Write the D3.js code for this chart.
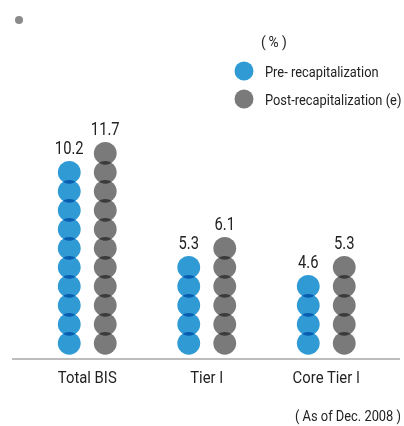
<!DOCTYPE html>
<html>
<head>
<meta charset="utf-8">
<style>
  body { margin: 0; background: #fff; }
  svg text { font-family: "Roboto", "DejaVu Sans Condensed", sans-serif; fill: #222; }
</style>
</head>
<body>
<script src="https://cdn.jsdelivr.net/npm/d3@7"></script>
<script>
  // data
  var categories = ["Total BIS", "Tier \u2160", "Core Tier \u2160"];
  var series = ["Pre- recapitalization", "Post-recapitalization (e)"];
  var preValues = [10.2, 5.3, 4.6];
  var postValues = [11.7, 6.1, 5.3];
  var colors = ["#2f9ad4", "#7a7a7b"];

  var width = 404, height = 426;

  var svg = d3.select("body").append("svg")
      .attr("width", width)
      .attr("height", height);

  var x = d3.scaleBand().domain(categories).range([27.5, 386]);
  var xSub = d3.scalePoint().domain(series).range([-18, 18]);
  var y = d3.scaleLinear().domain([0, 12]).range([352.8, 124.8]);
  var r = 11.4;

  // condensed look: squeeze the text horizontally
  function narrowText(parent, px, py, sx, size, anchor, str) {
    var g = parent.append("g").attr("transform", "translate(" + px + "," + py + ")");
    return g.append("text")
        .attr("transform", "scale(" + sx + ",1)")
        .attr("text-anchor", anchor)
        .style("font-size", size + "px")
        .text(str);
  }

  // small bullet at top left
  svg.append("circle")
      .attr("cx", 19).attr("cy", 20).attr("r", 4)
      .attr("fill", "#8a8a8a");

  // legend
  narrowText(svg, 261, 47, 0.95, 14.5, "start", "(\u2009% )");

  series.forEach(function(s, i) {
    svg.append("circle")
        .attr("cx", 244).attr("cy", 71 + i * 28)
        .attr("r", 9.5)
        .attr("fill", colors[i]);
    narrowText(svg, 265, 71 + i * 28 + 5.5, 0.83, 15.5, "start", s);
  });

  // baseline
  svg.append("line")
      .attr("x1", 12).attr("x2", 400)
      .attr("y1", 359).attr("y2", 359)
      .attr("stroke", "#bdbdbd")
      .attr("stroke-width", 2);

  // stacked dots
  var rows = [];
  categories.forEach(function(c, ci) {
    [preValues[ci], postValues[ci]].forEach(function(v, si) {
      rows.push({ cat: c, s: series[si], si: si, value: v, n: Math.floor(v) });
    });
  });

  rows.forEach(function(d) {
    var cx = x(d.cat) + x.bandwidth() / 2 + xSub(d.s);
    svg.selectAll(".dot-" + d.si + "-" + categories.indexOf(d.cat))
        .data(d3.range(d.n))
        .enter().append("circle")
        .attr("cx", cx)
        .attr("cy", function(k) { return y(k + 0.5); })
        .attr("r", r)
        .attr("fill", colors[d.si])
        .style("mix-blend-mode", "multiply");

    narrowText(svg, cx, y(d.n - 0.5) - r - 6.5, 0.82, 18, "middle", d.value.toFixed(1));
  });

  // category labels
  categories.forEach(function(c) {
    narrowText(svg, x(c) + x.bandwidth() / 2, 382.5, 0.9, 16.5, "middle", c);
  });

  narrowText(svg, 401, 421, 0.92, 14, "end", "( As of Dec. 2008 )");
</script>
</body>
</html>
